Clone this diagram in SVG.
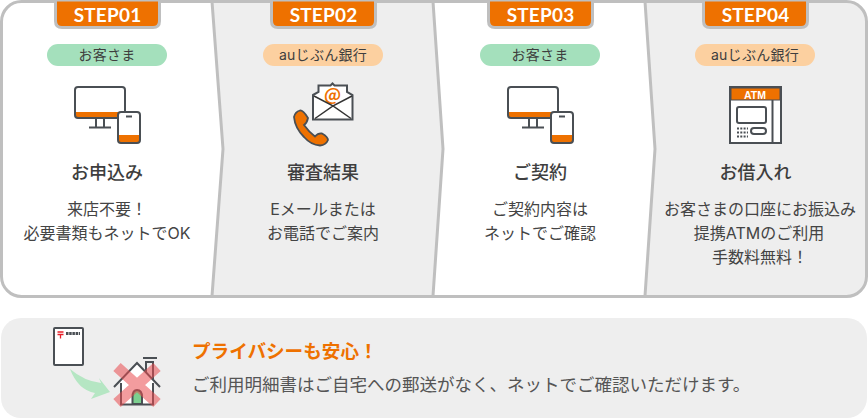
<svg xmlns="http://www.w3.org/2000/svg" width="868" height="418" viewBox="0 0 868 418">
<style>
text{font-family:"Noto Sans CJK JP","Noto Sans",sans-serif;fill:#3e3e3e;text-anchor:middle}
.tab{fill:#ee7100;stroke:#bfbfbf;stroke-width:3}
.st{font-family:"Lato","Liberation Sans",sans-serif;font-size:19px;font-weight:700;fill:#fff;letter-spacing:.2px}
.pg{fill:#a4e0bc}.po{fill:#fcd0a0}
.pt{font-family:"Inter","Noto Sans CJK JP",sans-serif;font-size:14px;letter-spacing:.3px}
.h{font-size:18px;font-weight:500}
.b{font-family:"Inter","Noto Sans CJK JP",sans-serif;font-size:16px;fill:#444}
.ln{fill:none;stroke:#4a4f54;stroke-width:2}
.or{fill:#ee7100}
.w{fill:#fff}
.div{fill:none;stroke:#bfbfbf;stroke-width:3}
</style>
<defs>
<g id="dev">
<rect x="1" y="1" width="50" height="31" rx="3" class="w"/>
<rect x="2" y="26" width="48" height="5" class="or"/>
<rect x="1" y="1" width="50" height="31" rx="3" class="ln"/>
<path d="M22 33v8M30 33v8M15 41.500h22" class="ln"/>
<rect x="44" y="26" width="22" height="31" rx="3" class="w"/>
<rect x="45" y="49" width="20" height="7" class="or"/>
<rect x="44" y="26" width="22" height="31" rx="3" class="ln"/>
<path d="M52 30.500h6" class="ln"/>
</g>
</defs>
<g id="panels">
<path d="M22 1.500H212L223 149 212 296H22Q1.500 296 1.500 276V22Q1.500 1.500 22 1.500Z" fill="#fff"/>
<path d="M212 1.500H433L443 149 433 296H212L223 149Z" fill="#eee"/>
<path d="M433 1.500H645L655 149 645 296H433L443 149Z" fill="#fff"/>
<path d="M645 1.500H846Q866.500 1.500 866.500 22V276Q866.500 296 846 296H645L655 149Z" fill="#eee"/>
</g>
<g id="connectors">
<path class="div" d="M212 1.500L223 149 212 296"/>
<path class="div" d="M433 1.500L443 149 433 296"/>
<path class="div" d="M645 1.500L655 149 645 296"/>
<rect x="1.500" y="1.500" width="865" height="295" rx="20" fill="none" stroke="#bfbfbf" stroke-width="3"/>
</g>
<g id="step1">
<path class="tab" d="M55.500 0V21Q55.500 27.500 62 27.500H153Q159.500 27.500 159.500 21V0Z"/>
<text class="st" x="107.500" y="22">STEP01</text>
<rect class="pg" x="47" y="44" width="120" height="22" rx="11"/>
<text class="pt" x="107" y="60">お客さま</text>
<use href="#dev" x="74" y="86"/>
<text class="h" x="107" y="178.500">お申込み</text>
<text class="b" x="107" y="214.500">来店不要！</text>
<text class="b" x="107" y="238.500">必要書類もネットでOK</text>
</g>
<g id="step2">
<path class="tab" d="M271.500 0V21Q271.500 27.500 278 27.500H369Q375.500 27.500 375.500 21V0Z"/>
<text class="st" x="323.500" y="22">STEP02</text>
<rect class="po" x="263" y="44" width="120" height="22" rx="11"/>
<text class="pt" x="323" y="60">auじぶん銀行</text>
<path d="M313 95L318.500 92V85.500H330.500L332.500 83.500 334.500 85.500H347V92L352.500 95V119.500H313Z" class="w" stroke="#4a4f54" stroke-width="2"/>
<text x="332.500" y="101" font-size="17" font-weight="700" style="fill:#ee7100">@</text>
<path d="M314 96L333 106 352 96M315 118.500L333 106 351 118.500" fill="none" stroke="#333" stroke-width="1.500"/>
<path d="M294 117Q295 112 300 110.500Q303 110 308 118Q307 123 304 125Q309 132 315 136.500Q318 133 322 133.500Q328 137 328 140Q326 145 320 145.500Q311 145 304 137Q295 128 294 117Z" class="or" stroke="#4a4f54" stroke-width="1.800"/>
<text class="h" x="323" y="178.500">審査結果</text>
<text class="b" x="323" y="214.500">Eメールまたは</text>
<text class="b" x="323" y="238.500">お電話でご案内</text>
</g>
<g id="step3">
<path class="tab" d="M488.500 0V21Q488.500 27.500 495 27.500H586Q592.500 27.500 592.500 21V0Z"/>
<text class="st" x="540.500" y="22">STEP03</text>
<rect class="pg" x="480" y="44" width="120" height="22" rx="11"/>
<text class="pt" x="540" y="60">お客さま</text>
<use href="#dev" x="507" y="86"/>
<text class="h" x="540" y="178.500">ご契約</text>
<text class="b" x="540" y="214.500">ご契約内容は</text>
<text class="b" x="540" y="238.500">ネットでご確認</text>
</g>
<g id="step4">
<path class="tab" d="M703.500 0V21Q703.500 27.500 710 27.500H801Q807.500 27.500 807.500 21V0Z"/>
<text class="st" x="755.500" y="22">STEP04</text>
<rect class="po" x="695" y="44" width="120" height="22" rx="11"/>
<text class="pt" x="755" y="60">auじぶん銀行</text>
<rect x="730" y="87" width="51" height="56" fill="#fff" stroke="#4a4f54" stroke-width="2"/>
<rect x="731" y="88" width="49" height="12" class="or" stroke="#4a4f54" stroke-width="1"/>
<text x="755" y="98.500" font-size="10.500" font-weight="700" style="fill:#fff;font-family:'Liberation Sans',sans-serif">ATM</text>
<path d="M772.500 100V143" class="ln"/>
<rect x="737" y="107" width="29" height="16" rx="2" class="ln"/>
<rect x="751" y="128" width="15" height="6" rx="3" class="ln"/>
<path d="M737 128.500h11M737 132.500h11M737 136.500h11" fill="none" stroke="#4a4f54" stroke-width="2.200" stroke-dasharray="2 1.300"/>
<text class="h" x="755.500" y="178.500">お借入れ</text>
<text class="b" x="760" y="214.500">お客さまの口座にお振込み</text>
<text class="b" x="759" y="238.500">提携ATMのご利用</text>
<text class="b" x="760" y="262.500">手数料無料！</text>
</g>
<g id="notice">
<rect x="1" y="318" width="866" height="100" rx="20" fill="#eee"/>
<g id="letter">
<rect x="54" y="328" width="29" height="37" rx="1" fill="#fff" stroke="#4a4f54" stroke-width="2"/>
<path d="M57.500 332h6M57.500 334.500h6M60.500 334.500v4" fill="none" stroke="#e8202a" stroke-width="1.300"/>
<path d="M66 333.500h14" fill="none" stroke="#4a4f54" stroke-width="3" stroke-dasharray="2.500 .7"/>
</g>
<path d="M70 369Q84 381 101 383L99 378 110 392 91 399 95 393Q78 390 70 369Z" fill="#b5e6c3"/>
<g id="house">
<path d="M121 392V405H153V377L137 363 121 377Z" fill="#fff"/>
<path d="M121 383V404.500H153V383" class="ln"/>
<path d="M114 387L137 363 160 387" class="ln"/>
<path d="M146 372V362H153V379M143 358h14" class="ln"/>
<path d="M132.500 404V397Q132.500 390 137 390Q142 390 142 397V404Z" fill="#7ccf8f" stroke="#4a4f54" stroke-width="2"/>
<path d="M117 367L157 403M157 367L117 403" stroke="#ea4a4f" stroke-opacity=".55" stroke-width="11" fill="none"/>
</g>
<text x="192" y="358" font-size="18.600" font-weight="700" style="fill:#ee7100;text-anchor:start">プライバシーも安心！</text>
<text x="192" y="390.500" font-size="17.500" style="fill:#555;text-anchor:start">ご利用明細書はご自宅への郵送がなく、ネットでご確認いただけます。</text>
</g>
</svg>
